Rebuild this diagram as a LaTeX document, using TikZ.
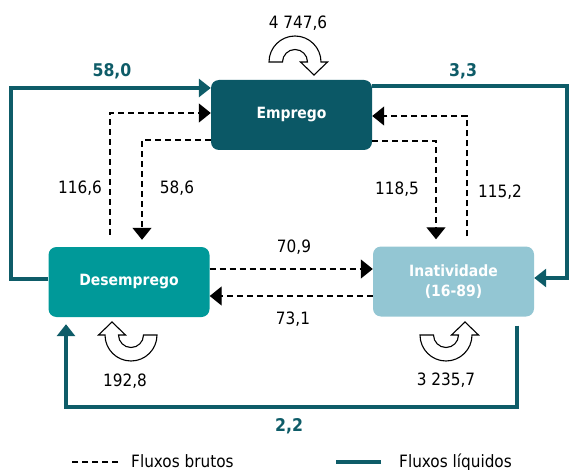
\documentclass[tikz,border=0pt]{standalone}
\usepackage{fontspec}
\setmainfont{DejaVuSansCondensed.ttf}[BoldFont=DejaVuSansCondensed-Bold.ttf]
\usepackage{tikz}
\definecolor{empregoteal}{RGB}{11,88,102}
\definecolor{desempregoteal}{RGB}{0,153,153}
\definecolor{inativblue}{RGB}{147,198,211}
\definecolor{netteal}{RGB}{14,92,104}
\tikzset{statenode/.style={rectangle,rounded corners=8pt,fill=#1,text=white,
           font=\fontsize{15.5}{20}\selectfont\bfseries,align=center,
           minimum width=161pt,minimum height=70pt,inner sep=0pt},
         grossline/.style={black,line width=1.2pt,dash pattern=on 6pt off 4pt,
           -{Triangle[length=12pt,width=19pt]}},
         netline/.style={netteal,line width=4pt,line join=miter,
           -{Triangle[length=12pt,width=18pt]}},
         numlabel/.style={font=\fontsize{17}{20}\selectfont},
         netlabel/.style={text=netteal,font=\fontsize{17.5}{20}\selectfont\bfseries},
         loopshape/.style={draw=black,fill=white,line width=1.1pt}}
\usetikzlibrary{arrows.meta}

\begin{document}
\begin{tikzpicture}[x=1pt,y=-1pt]
\useasboundingbox (0,0) rectangle (569,470);

\node[statenode=empregoteal] (emprego) at (291.5,115) {Emprego};
\node[statenode=desempregoteal] (desemprego) at (129,282) {Desemprego};
\node[statenode=inativblue] (inatividade) at (453.5,281.5) {Inatividade\\(16-89)};

% fluxos liquidos
\draw[netline] ([yshift=3pt]desemprego.west) -| (11,88) -- ([yshift=27pt]emprego.west);
\draw[netline] ([yshift=29pt]emprego.east) -| (567,278) -- ([yshift=3.5pt]inatividade.east);
\draw[netline] ([xshift=63.5pt,yshift=-9pt]inatividade.south) |- (66,407) -- ([xshift=-63pt,yshift=-7pt]desemprego.south);
\node[netlabel] (net58) at (112,71) {58,0};
\node[netlabel] (net33) at (463,71) {3,3};
\node[netlabel] (net22) at (289,426) {2,2};

% fluxos brutos
\draw[grossline] ([xshift=-19pt,yshift=12pt]desemprego.north) |- ([yshift=2pt]emprego.west);
\draw[grossline] ([yshift=-25pt]emprego.west) -| ([xshift=13pt,yshift=7pt]desemprego.north);
\draw[grossline] ([yshift=-26pt]emprego.east) -| ([xshift=-17.5pt,yshift=7pt]inatividade.north);
\draw[grossline] ([xshift=13.5pt,yshift=10pt]inatividade.north) |- ([yshift=-1pt]emprego.east);
\draw[grossline] ([yshift=13pt]desemprego.east) -- ([yshift=12.5pt]inatividade.west);
\draw[grossline] ([yshift=-14.5pt]inatividade.west) -- ([yshift=-14pt]desemprego.east);
\node[numlabel] (gross116) at (80,188) {116,6};
\node[numlabel] (gross58) at (177,188) {58,6};
\node[numlabel] (gross118) at (397,189) {118,5};
\node[numlabel] (gross115) at (500,192) {115,2};
\node[numlabel] (gross70) at (294,247) {70,9};
\node[numlabel] (gross73) at (293,319) {73,1};

% permanencias
\foreach \px/\py/\sx/\sy in {295/62/1/-1, 131/335/-1/1, 446/335/1/1}
{
\begin{scope}[shift={(\px,\py)},xscale=\sx,yscale=\sy]
\draw[loopshape] (-26,0) arc[start angle=180,end angle=0,radius=26] -- (32.5,0) -- (19,-13)
  -- (5.5,0) -- (12.5,0) arc[start angle=0,end angle=180,radius=12.5] -- cycle;
\end{scope}
}
\node[numlabel] (stay1) at (298,23) {4 747,6};
\node[numlabel] (stay2) at (125,381) {192,8};
\node[numlabel] (stay3) at (446,380) {3 235,7};

% legenda
\node[numlabel,anchor=base west,inner sep=0pt] (brutos) at (131,467) {Fluxos brutos};
\node[numlabel,anchor=base west,inner sep=0pt] (liquidos) at (399,467) {Fluxos líquidos};
\draw[grossline,-] ([xshift=-13pt,yshift=5pt]brutos.base west) -- ++(-47,0);
\draw[netline,-] ([xshift=-18pt,yshift=5pt]liquidos.base west) -- ++(-45,0);
\end{tikzpicture}
\end{document}
